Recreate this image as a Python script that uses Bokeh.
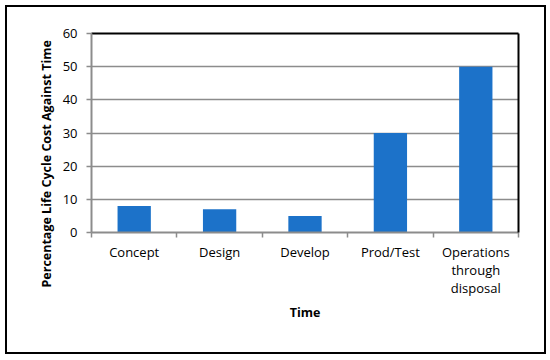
from bokeh.plotting import figure
from bokeh.models import LinearAxis, FixedTicker, Range1d, Title, ColumnDataSource
from bokeh.embed import file_html
from bokeh.resources import INLINE

categories = ["Concept", "Design", "Develop", "Prod/Test", "Operations through disposal"]
tick_labels = ["Concept", "Design", "Develop", "Prod/Test", "Operations\nthrough\ndisposal"]
values = [8, 7, 5, 30, 50]
y_ticks = [0, 10, 20, 30, 40, 50, 60]
x_title = "Time"
y_title = "Percentage Life Cycle Cost Against Time"

positions = list(range(1, len(categories) + 1))
bounds = [i + 0.5 for i in range(len(categories) + 1)]

BAR = "#1C72C9"
GRAY = "#8c8c8c"
FONT = "Open Sans"

p = figure(width=537, height=345, output_backend="svg", toolbar_location=None,
           x_range=Range1d(0.5, len(categories) + 0.5), y_range=Range1d(0, 60),
           min_border_left=84, min_border_right=26, min_border_top=26,
           min_border_bottom=120)
p.margin = (7, 0, 0, 7)
p.styles = {"outline": "2px solid black", "outline-offset": "0px"}
p.outline_line_color = None
p.background_fill_color = "white"
p.border_fill_color = "white"

src = ColumnDataSource(dict(x=positions, v=values, name=categories))
p.vbar(x="x", top="v", width=0.39, source=src, fill_color=BAR, line_color=None)

# grid
p.xgrid.visible = False
p.ygrid.ticker = FixedTicker(ticks=y_ticks)
p.ygrid.grid_line_color = GRAY
p.ygrid.grid_line_width = 1.5

# x axis
xa = p.xaxis[0]
xa.ticker = FixedTicker(ticks=positions, minor_ticks=bounds)
xa.major_label_overrides = {pos: lab for pos, lab in zip(positions, tick_labels)}
xa.major_tick_line_color = None
xa.major_tick_out = 0
xa.major_tick_in = 0
xa.minor_tick_line_color = GRAY
xa.minor_tick_line_width = 1.5
xa.minor_tick_out = 5
xa.minor_tick_in = 0
xa.axis_line_color = GRAY
xa.axis_line_width = 2
xa.major_label_standoff = 5
xa.major_label_text_font = FONT
xa.major_label_text_font_size = "13px"
xa.major_label_text_color = "black"
xa.major_label_text_line_height = 1.0
xa.axis_label = x_title
xa.axis_label_text_font = FONT
xa.axis_label_text_font_style = "bold"
xa.axis_label_text_font_size = "12.5px"
xa.axis_label_text_color = "black"
xa.axis_label_standoff = 4

# y axis
ya = p.yaxis[0]
ya.ticker = FixedTicker(ticks=y_ticks)
ya.minor_tick_line_color = None
ya.major_tick_line_color = GRAY
ya.major_tick_line_width = 1.5
ya.major_tick_out = 5
ya.major_tick_in = 0
ya.axis_line_color = GRAY
ya.axis_line_width = 2
ya.major_label_standoff = 9
ya.major_label_text_font = FONT
ya.major_label_text_font_size = "13px"
ya.major_label_text_color = "black"

# black top/right frame edges
for loc in ("right", "above"):
    ax = LinearAxis(ticker=FixedTicker(ticks=[]), axis_line_color="black",
                    axis_line_width=2, major_tick_line_color=None,
                    minor_tick_line_color=None)
    p.add_layout(ax, loc)

# y axis title (shifted downward like the reference)
p.add_layout(Title(text=y_title, align="left", offset=-55, standoff=10,
                   text_font=FONT, text_font_style="bold",
                   text_font_size="12.5px", text_color="black"), "left")

open("out.html", "w").write(file_html(p, INLINE))
